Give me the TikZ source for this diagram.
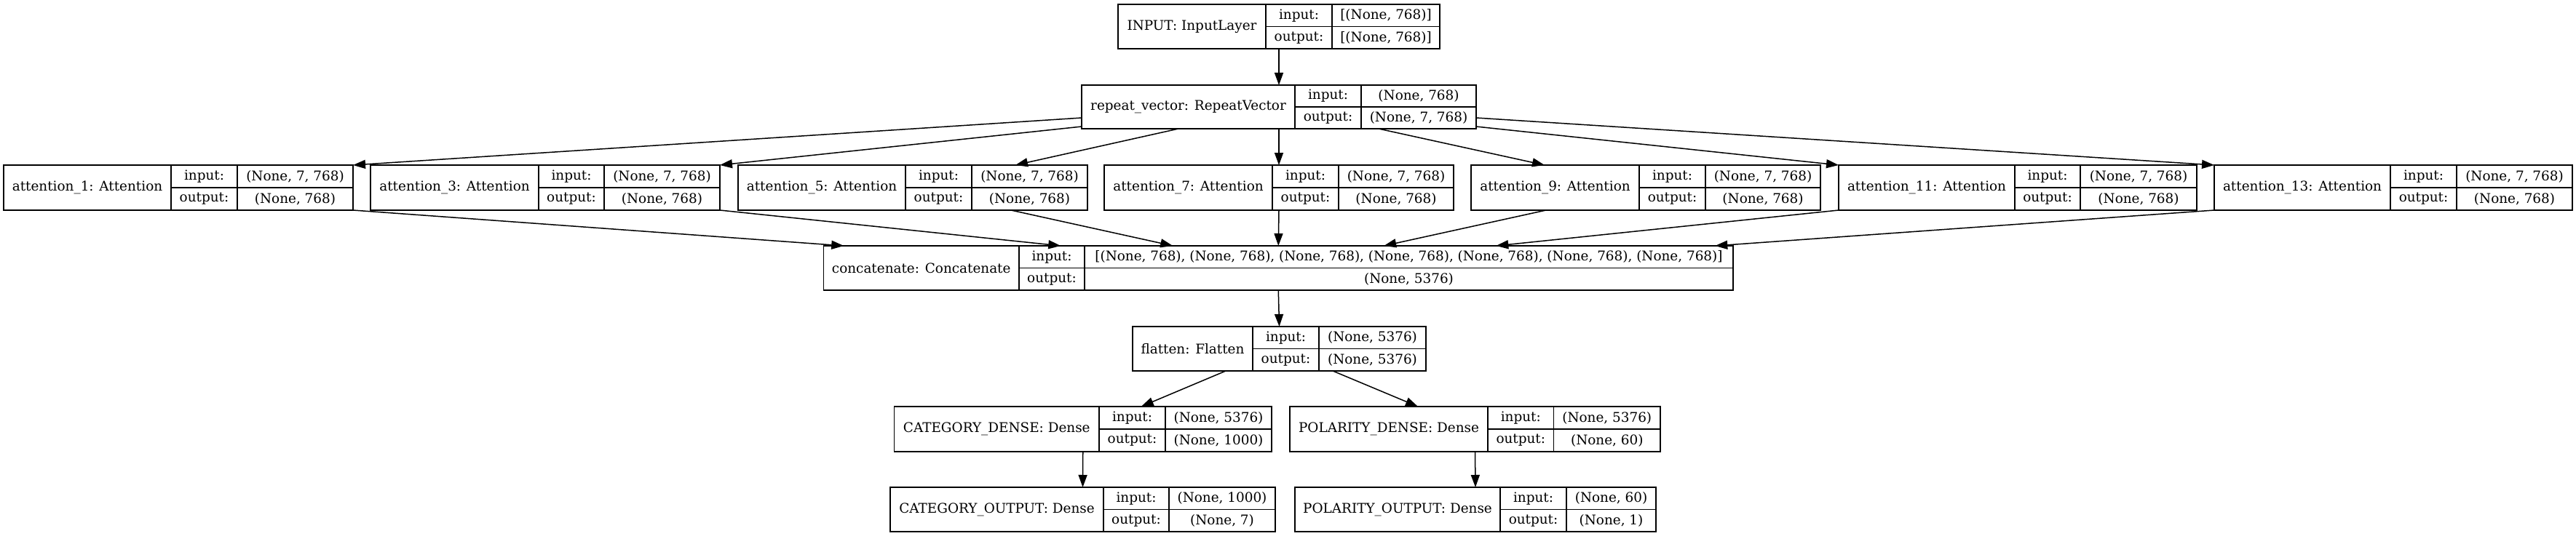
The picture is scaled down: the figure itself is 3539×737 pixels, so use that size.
\documentclass[tikz,border=0pt]{standalone}
\usepackage{fontspec}
\setmainfont{DejaVu Serif}
\usetikzlibrary{arrows.meta}
\tikzset{
  lbox/.style={draw=black, line width=1.6bp, inner sep=0pt, outer sep=0pt, rectangle},
  lline/.style={draw=black, line width=1.6bp},
  cell/.style={inner sep=0pt, font=\fontsize{18.4bp}{22bp}\selectfont},
  edge/.style={draw=black, line width=1.5bp, -{Triangle[length=17bp,width=12bp]}},
}
% #1 name, #2 left, #3 first divider, #4 second divider, #5 right, #6 label, #7 input, #8 output
\newcommand{\lyr}[8]{%
  \pgfmathsetmacro\LyW{#5-#2}%
  \pgfmathsetmacro\LyH{\LyB-\LyT}%
  \pgfmathsetmacro\LyM{(\LyT+\LyB)/2}%
  \pgfmathsetmacro\LyU{(3*\LyT+\LyB)/4}%
  \pgfmathsetmacro\LyD{(\LyT+3*\LyB)/4}%
  \node[lbox, minimum width=\LyW bp, minimum height=\LyH bp] (#1) at ({(#2+#5)/2},\LyM) {};
  \draw[lline] (#3,\LyT) -- (#3,\LyB) (#4,\LyT) -- (#4,\LyB) (#3,\LyM) -- (#5,\LyM);
  \node[cell] (#1-name) at ({(#2+#3)/2},\LyM) {#6};
  \node[cell] (#1-ik) at ({(#3+#4)/2},\LyU) {input:};
  \node[cell] (#1-ok) at ({(#3+#4)/2},\LyD) {output:};
  \node[cell] (#1-iv) at ({(#4+#5)/2},\LyU) {#7};
  \node[cell] (#1-ov) at ({(#4+#5)/2},\LyD) {#8};
}
\begin{document}
\begin{tikzpicture}[x=1bp, y=-1bp]
\useasboundingbox (0,0) rectangle (3539,737);
\fill[white] (0,0) rectangle (3539,737);

\def\LyT{6}\def\LyB{67}
\lyr{inp}{1536}{1739}{1830}{1978}{INPUT: InputLayer}{[(None, 768)]}{[(None, 768)]}

\def\LyT{117}\def\LyB{177}
\lyr{rep}{1486}{1779}{1870}{2028}{repeat\_vector: RepeatVector}{(None, 768)}{(None, 7, 768)}

\def\LyT{227}\def\LyB{289}
\lyr{a1}{5}{235}{326}{485}{attention\_1: Attention}{(None, 7, 768)}{(None, 768)}
\lyr{a3}{509}{740}{830}{989}{attention\_3: Attention}{(None, 7, 768)}{(None, 768)}
\lyr{a5}{1014}{1244}{1335}{1494}{attention\_5: Attention}{(None, 7, 768)}{(None, 768)}
\lyr{a7}{1517}{1748}{1839}{1997}{attention\_7: Attention}{(None, 7, 768)}{(None, 768)}
\lyr{a9}{2021}{2252}{2343}{2501}{attention\_9: Attention}{(None, 7, 768)}{(None, 768)}
\lyr{a11}{2526}{2768}{2858}{3018}{attention\_11: Attention}{(None, 7, 768)}{(None, 768)}
\lyr{a13}{3042}{3284}{3375}{3534}{attention\_13: Attention}{(None, 7, 768)}{(None, 768)}

\def\LyT{338}\def\LyB{399}
\lyr{cat}{1131.5}{1400}{1490}{2381}{concatenate: Concatenate}{[(None, 768), (None, 768), (None, 768), (None, 768), (None, 768), (None, 768), (None, 768)]}{(None, 5376)}

\def\LyT{449}\def\LyB{510}
\lyr{fl}{1556}{1721}{1812}{1959}{flatten: Flatten}{(None, 5376)}{(None, 5376)}

\def\LyT{559}\def\LyB{621}
\lyr{cd}{1228.5}{1510}{1601}{1747}{CATEGORY\_DENSE: Dense}{(None, 5376)}{(None, 1000)}
\lyr{pd}{1772}{2044}{2134.5}{2281}{POLARITY\_DENSE: Dense}{(None, 5376)}{(None, 60)}

\def\LyT{670}\def\LyB{731}
\lyr{co}{1223}{1516}{1606}{1752}{CATEGORY\_OUTPUT: Dense}{(None, 1000)}{(None, 7)}
\lyr{po}{1779}{2061}{2152}{2275}{POLARITY\_OUTPUT: Dense}{(None, 60)}{(None, 1)}

% edges
\draw[edge] (inp.south) -- (rep.north);
\draw[edge] ([yshift=-15bp]rep.west) -- (a1.north east);
\draw[edge] ([yshift=-27bp]rep.west) -- (a3.north east);
\draw[edge] ([xshift=-138bp]rep.south) -- ([xshift=141bp]a5.north);
\draw[edge] (rep.south) -- (a7.north);
\draw[edge] ([xshift=137bp]rep.south) -- ([xshift=-139bp]a9.north);
\draw[edge] ([yshift=-27bp]rep.east) -- (a11.north west);
\draw[edge] ([yshift=-15bp]rep.east) -- (a13.north west);

\draw[edge] (a1.south east) -- ([xshift=-597bp]cat.north);
\draw[edge] (a3.south east) -- ([xshift=-299bp]cat.north);
\draw[edge] ([xshift=135bp]a5.south) -- ([xshift=-145bp]cat.north);
\draw[edge] (a7.south) -- (cat.north);
\draw[edge] ([xshift=-137bp]a9.south) -- ([xshift=145bp]cat.north);
\draw[edge] (a11.south west) -- ([xshift=299bp]cat.north);
\draw[edge] (a13.south west) -- ([xshift=600bp]cat.north);

\draw[edge] (cat.south) -- (fl.north);
\draw[edge] ([xshift=-73.5bp]fl.south) -- ([xshift=80bp]cd.north);
\draw[edge] ([xshift=73.5bp]fl.south) -- ([xshift=-78.5bp]pd.north);
\draw[edge] (cd.south) -- (co.north);
\draw[edge] (pd.south) -- (po.north);
\end{tikzpicture}
\end{document}
